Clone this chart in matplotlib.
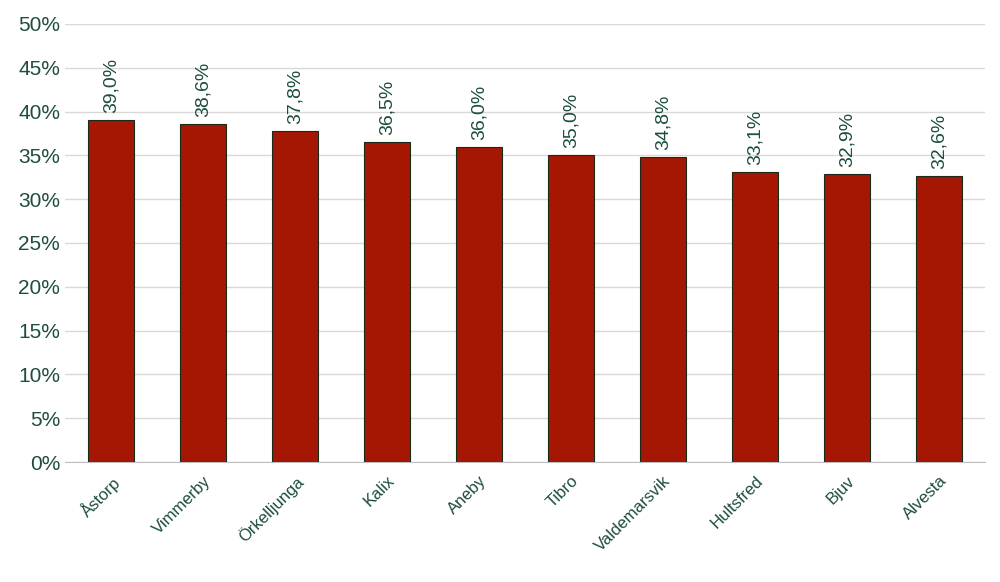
import matplotlib.pyplot as plt
from matplotlib.ticker import FuncFormatter

plt.rcParams['font.family'] = ['Liberation Sans', 'DejaVu Sans']

# kommuner och andel
kommuner = ["Åstorp", "Vimmerby", "Örkelljunga", "Kalix", "Aneby", "Tibro",
            "Valdemarsvik", "Hultsfred", "Bjuv", "Alvesta"]
andel = [39.0, 38.6, 37.8, 36.5, 36.0, 35.0, 34.8, 33.1, 32.9, 32.6]

green = "#1d4d3c"

fig = plt.figure(figsize=(10, 5.82), dpi=100)
ax = fig.add_axes([0.065, 0.206, 0.92, 0.753])

bars = ax.bar(range(len(kommuner)), andel, width=0.51, color="#a51702",
              edgecolor="#1a2a1a", linewidth=0.8, zorder=3)
for b, v in zip(bars, andel):
    ax.text(b.get_x() + b.get_width() / 2, v + 0.8, f"{v:.1f}%".replace(".", ","),
            rotation=90, ha="center", va="bottom", fontsize=14, color=green)

ax.set_ylim(0, 50)
ax.set_yticks(range(0, 51, 5))
ax.yaxis.set_major_formatter(FuncFormatter(lambda y, p: f"{y:.0f}%"))
ax.set_xlim(-0.5, len(kommuner) - 0.5)
ax.set_xticks(range(len(kommuner)))
ax.set_xticklabels(kommuner, rotation=45, ha="right", rotation_mode="anchor",
                   fontsize=12, color=green)
ax.tick_params(axis="y", labelsize=15, colors=green, length=0)
ax.tick_params(axis="x", length=0, pad=8)
ax.grid(axis="y", color="#d9d9d9", linewidth=1, zorder=0)
for s in ["top", "right", "left"]:
    ax.spines[s].set_visible(False)
ax.spines["bottom"].set_color("#bfbfbf")

fig.savefig("out.png", dpi=100)
